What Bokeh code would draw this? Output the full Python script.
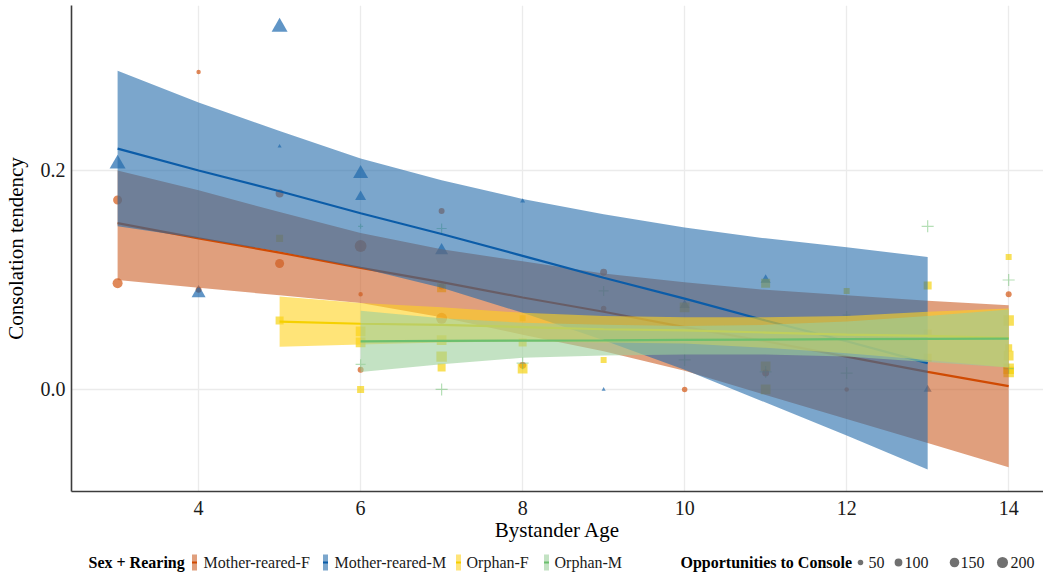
from bokeh.plotting import figure
from bokeh.models import FixedTicker, Range1d, PrintfTickFormatter
from bokeh.layouts import column
from bokeh.embed import file_html
from bokeh.resources import INLINE
from bokeh.core.properties import value
import numpy as np

FONT = "Liberation Serif"

groups = ["Mother-reared-F", "Mother-reared-M", "Orphan-F", "Orphan-M"]
line_colors = ["#D04A02", "#0B5CA8", "#F5D000", "#6CBF6E"]
band_colors = ["#CB5F26", "#236BAA", "#FFD21E", "#9BCF9B"]
markers = ["circle", "triangle", "square", "cross"]

# ---- observations (age, consolation tendency, opportunities) ----
mrF_age = [3, 3, 4, 4, 5, 5, 6, 6, 6, 7, 7, 7, 8, 9, 9, 10, 11, 12, 14]
mrF_ct = [0.173, 0.097, 0.290, 0.091, 0.179, 0.115, 0.131, 0.087, 0.018, 0.163,
          0.094, 0.065, 0.022, 0.107, 0.074, 0.000, 0.015, 0.000, 0.087]
mrF_opp = [133, 164, 33, 59, 105, 133, 230, 33, 59, 59, 59, 199, 80, 80, 50, 50, 80, 33, 59]

mrM_age = [3, 4, 5, 5, 6, 6, 7, 8, 9, 10, 11, 13]
mrM_ct = [0.206, 0.088, 0.331, 0.222, 0.197, 0.176, 0.127, 0.172, 0.000, 0.077, 0.100, 0.000]
mrM_opp = [230, 177, 230, 15, 203, 109, 153, 23, 15, 90, 90, 58]

oF_age = [5, 5, 6, 6, 6, 7, 7, 7, 7, 8, 8, 8, 9, 10, 11, 11, 11, 12, 13, 13, 13,
          14, 14, 14, 14, 14, 14]
oF_ct = [0.063, 0.138, 0.053, 0.043, 0.000, 0.093, 0.045, 0.030, 0.020, 0.065, 0.043,
         0.019, 0.027, 0.075, 0.097, 0.021, 0.000, 0.090, 0.095, 0.051, 0.029,
         0.121, 0.063, 0.038, 0.031, 0.019, 0.016]
oF_opp = [134, 103, 200, 200, 103, 170, 200, 230, 134, 75, 134, 200, 75, 200, 170,
          200, 200, 75, 134, 134, 134, 75, 230, 103, 200, 230, 230]

oM_age = [6, 6, 7, 7, 8, 9, 10, 11, 12, 12, 13, 14, 14]
oM_ct = [0.149, 0.023, 0.000, 0.147, 0.024, 0.090, 0.027, 0.016, 0.015, 0.068,
         0.149, 0.100, 0.019]
oM_opp = [21, 83, 119, 83, 119, 83, 119, 119, 119, 53, 119, 119, 83]

# ---- fitted lines with confidence bands ----
mrF_fx = [3, 4, 5, 6, 7, 8, 9, 10, 11, 12, 13, 14]
mrF_fit = [0.152, 0.138, 0.125, 0.111, 0.098, 0.084, 0.071, 0.057, 0.044, 0.030, 0.016, 0.003]
mrF_hi = [0.200, 0.182, 0.162, 0.143, 0.128, 0.117, 0.106, 0.098, 0.091, 0.086, 0.081, 0.077]
mrF_lo = [0.100, 0.093, 0.086, 0.079, 0.066, 0.050, 0.035, 0.017, -0.005, -0.027, -0.049, -0.071]

mrM_fx = [3, 4, 5, 6, 7, 8, 9, 10, 11, 12, 13]
mrM_fit = [0.220, 0.200, 0.181, 0.161, 0.142, 0.122, 0.102, 0.083, 0.063, 0.044, 0.024]
mrM_hi = [0.291, 0.262, 0.236, 0.211, 0.191, 0.174, 0.160, 0.148, 0.138, 0.130, 0.121]
mrM_lo = [0.149, 0.138, 0.126, 0.111, 0.093, 0.070, 0.045, 0.018, -0.012, -0.042, -0.073]

oF_fx = [5, 6, 7, 8, 9, 10, 11, 12, 13, 14]
oF_fit = [0.062, 0.060, 0.059, 0.057, 0.055, 0.054, 0.052, 0.050, 0.049, 0.047]
oF_hi = [0.085, 0.079, 0.075, 0.070, 0.067, 0.066, 0.066, 0.067, 0.071, 0.074]
oF_lo = [0.039, 0.041, 0.043, 0.044, 0.043, 0.042, 0.038, 0.033, 0.027, 0.020]

oM_fx = [6, 7, 8, 9, 10, 11, 12, 13, 14]
oM_fit = [0.0440, 0.0443, 0.0446, 0.0449, 0.0453, 0.0456, 0.0459, 0.0462, 0.0465]
oM_hi = [0.072, 0.065, 0.061, 0.059, 0.058, 0.059, 0.062, 0.067, 0.073]
oM_lo = [0.016, 0.023, 0.029, 0.031, 0.032, 0.032, 0.030, 0.025, 0.020]

x_ticks = [4, 6, 8, 10, 12, 14]
y_ticks = [0.0, 0.2]
size_breaks = [50, 100, 150, 200]

obs = [(mrF_age, mrF_ct, mrF_opp), (mrM_age, mrM_ct, mrM_opp),
       (oF_age, oF_ct, oF_opp), (oM_age, oM_ct, oM_opp)]
fits = [(mrF_fx, mrF_fit, mrF_hi, mrF_lo), (mrM_fx, mrM_fit, mrM_hi, mrM_lo),
        (oF_fx, oF_fit, oF_hi, oF_lo), (oM_fx, oM_fit, oM_hi, oM_lo)]
shape_scale = {"circle": 1.0, "triangle": 1.35, "square": 0.886, "cross": 1.414}


def diam(opp):
    return 0.78 * np.sqrt(np.asarray(opp, dtype=float))


p = figure(width=1037, height=544, x_range=Range1d(2.431, 14.43),
           y_range=Range1d(-0.0932, 0.3507), output_backend="svg",
           toolbar_location=None, min_border_left=65, min_border_right=0,
           min_border_top=5, min_border_bottom=53)
p.frame_width = 972
p.frame_height = 486
p.outline_line_color = None
p.background_fill_color = "white"

# points first (under the smooths)
for (ax, ay, ao), mk, col in zip(obs, markers, line_colors):
    sz = diam(ao) * shape_scale[mk]
    if mk == "cross":
        p.scatter(ax, ay, size=sz, marker=mk, line_color=col, line_alpha=0.5, line_width=1.2)
    else:
        p.scatter(ax, ay, size=sz, marker=mk, fill_color=col, fill_alpha=0.65,
                  line_color=None)

# ribbons and fitted lines in group order
for (fx, fy, fh, fl), lc, bc in zip(fits, line_colors, band_colors):
    p.varea(x=fx, y1=fl, y2=fh, fill_color=bc, fill_alpha=0.6)
    p.line(fx, fy, line_color=lc, line_width=2.2)

p.xaxis.ticker = FixedTicker(ticks=x_ticks)
p.yaxis.ticker = FixedTicker(ticks=y_ticks)
p.yaxis.formatter = PrintfTickFormatter(format="%.1f")
p.xaxis.axis_label = "Bystander Age"
p.yaxis.axis_label = "Consolation tendency"
for ax in (p.xaxis, p.yaxis):
    ax.axis_line_color = "#3C3C3C"
    ax.axis_line_width = 1.6
    ax.major_tick_line_color = None
    ax.minor_tick_line_color = None
    ax.major_label_text_font = FONT
    ax.major_label_text_font_size = "20px"
    ax.major_label_text_color = "#1A1A1A"
    ax.axis_label_text_font = FONT
    ax.axis_label_text_font_size = "21px"
    ax.axis_label_text_font_style = "normal"
    ax.axis_label_text_color = "#000000"
p.xaxis.major_label_standoff = 3
p.xaxis.axis_label_standoff = 0
p.yaxis.major_label_standoff = 0
p.yaxis.axis_label_standoff = 10
p.grid.grid_line_color = "#EBEBEB"
p.grid.grid_line_width = 1.3
p.grid.minor_grid_line_color = None

# ---- legend strip (x in page pixels, frame aligned with the main plot) ----
lf = figure(width=1037, height=28, x_range=Range1d(73, 1045), y_range=Range1d(0, 28),
            output_backend="svg", toolbar_location=None, min_border_left=65,
            min_border_right=0, min_border_top=0, min_border_bottom=0,
            x_axis_type=None, y_axis_type=None)
lf.frame_width = 972
lf.frame_height = 28
lf.outline_line_color = None
lf.grid.visible = False
ly = 10
lf.text(x=[90], y=[ly], text=["Sex + Rearing"], text_font=value(FONT),
        text_font_size="16px", text_font_style="bold", text_baseline="middle",
        text_align="left", text_color="black")
key_x = [196, 327, 460, 548]
lab_x = [205, 336, 468, 556]
lf.rect(x=key_x, y=[ly] * 4, width=5, height=16, fill_color=band_colors,
        fill_alpha=0.6, line_color=None)
lf.segment(x0=[k - 2.5 for k in key_x], y0=[ly] * 4, x1=[k + 2.5 for k in key_x],
           y1=[ly] * 4, line_color=line_colors, line_width=2)
lf.text(x=lab_x, y=[ly] * 4, text=groups, text_font=value(FONT), text_font_size="16px",
        text_baseline="middle", text_align="left", text_color="#1A1A1A")
lf.text(x=[682], y=[ly], text=["Opportunities to Console"], text_font=value(FONT),
        text_font_size="16px", text_font_style="bold", text_baseline="middle",
        text_align="left", text_color="black")
lf.scatter(x=[862, 900, 956, 1004], y=[ly] * 4, size=diam(size_breaks), marker="circle",
           fill_color="#333333", fill_alpha=0.7, line_color=None)
lf.text(x=[870, 906, 962, 1012], y=[ly] * 4, text=[str(s) for s in size_breaks],
        text_font=value(FONT), text_font_size="16px", text_baseline="middle",
        text_align="left", text_color="#1A1A1A")

layout = column(p, lf, spacing=0)
open("out.html", "w").write(file_html(layout, INLINE))
